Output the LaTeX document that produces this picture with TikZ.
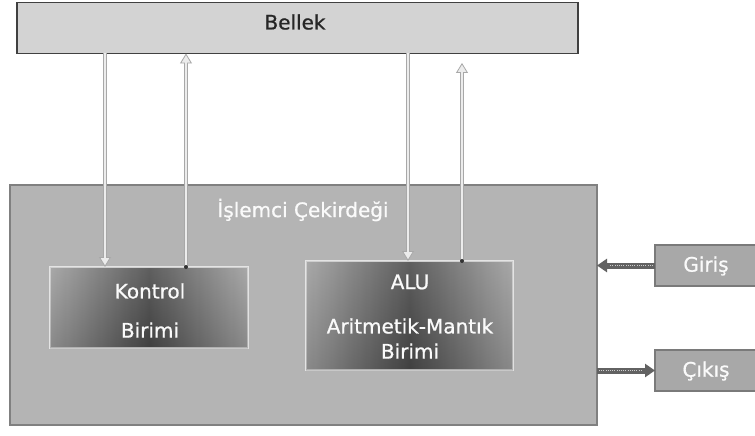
\documentclass[tikz,border=0pt]{standalone}
\usepackage{fontspec}
\setmainfont{DejaVu Sans}
\newfontfamily\labelfont{DejaVu Sans}[FakeBold=0.8]
\usetikzlibrary{arrows.meta,calc}
\definecolor{bellekfill}{HTML}{D3D3D3}
\definecolor{bellekdraw}{HTML}{404040}
\definecolor{cpufill}{HTML}{B4B4B4}
\definecolor{cpudraw}{HTML}{808080}
\definecolor{iofill}{HTML}{A8A8A8}
\definecolor{iodraw}{HTML}{7A7A7A}
\definecolor{unitedge}{HTML}{B4B4B4}
\definecolor{unitmid}{HTML}{545454}
\definecolor{unitline}{HTML}{E4E4E4}
\definecolor{memline}{HTML}{ECECEC}
\definecolor{memedge}{HTML}{A8A8A8}
\definecolor{ioarrow}{HTML}{626262}
\tikzset{
  box/.style={rectangle, inner sep=0pt, outer sep=0pt},
  bellekbox/.style={box, fill=bellekfill, draw=bellekdraw, line width=1.8pt},
  cpubox/.style={box, fill=cpufill, draw=cpudraw, line width=1.8pt},
  unitbox/.style={box, left color=unitedge, right color=unitedge, middle color=unitmid, draw=unitline, line width=1.6pt},
  iobox/.style={box, fill=iofill, draw=iodraw, line width=1.4pt},
  blacktext/.style={inner sep=0pt, text=black!85, font=\labelfont\fontsize{20}{24}\selectfont},
  whitetext/.style={inner sep=0pt, text=white!96!gray, font=\labelfont\fontsize{20}{24}\selectfont},
  memedgearrow/.style={draw=memedge, line width=4pt, -{Triangle[width=12pt,length=10pt,fill=memline,color=memedge,line width=0.8pt]}},
  meminner/.style={draw=memline, line width=2.2pt, shorten >=9pt},
  ioarr/.style={draw=ioarrow, line width=6pt, -{Triangle[width=13pt,length=10pt]}},
  iodots/.style={draw=white!60!gray, line width=1pt, dash pattern=on 1pt off 1.2pt},
  startdot/.style={circle, fill=black!80, inner sep=0pt, minimum size=4pt}
}
\begin{document}
\begin{tikzpicture}[x=1pt,y=-1pt]
\useasboundingbox (0,0) rectangle (755,436);
\fill[white] (0,0) rectangle (755,436);
% memory
\node[bellekbox, minimum width=561pt, minimum height=51pt] (bellek) at (297.5,28) {};
\node[blacktext] (bellektxt) at (295,22) {Bellek};
% processor
\node[cpubox, minimum width=587pt, minimum height=240pt] (cpu) at (303.5,305) {};
\node[whitetext] (cputxt) at (303,210) {İşlemci Çekirdeği};
% units
\node[unitbox, minimum width=198pt, minimum height=81pt] (kontrol) at (149,307.5) {};
\fill[top color=white, bottom color=black, opacity=0.12] (kontrol.south west) rectangle (kontrol.north east);
\node[whitetext] (kontrol1) at (150,291) {Kontrol};
\node[whitetext] (kontrol2) at (150,330) {Birimi};
\node[unitbox, minimum width=207pt, minimum height=109pt] (alu) at (409.5,315.5) {};
\fill[top color=white, bottom color=black, opacity=0.12] (alu.south west) rectangle (alu.north east);
\node[whitetext] (alu1) at (410,282) {ALU};
\node[whitetext] (alu2) at (410,326) {Aritmetik-Mantık};
\node[whitetext] (alu3) at (410,351) {Birimi};
% io
\node[iobox, minimum width=105pt, minimum height=41pt] (giris) at (707.5,265.5) {};
\node[whitetext] (giristxt) at (706,266) {Giriş};
\node[iobox, minimum width=105pt, minimum height=41pt] (cikis) at (707.5,370.5) {};
\node[whitetext] (cikistxt) at (706,371) {Çıkış};
% memory arrows
\coordinate (xa) at (105,0);
\coordinate (xb) at (186,0);
\coordinate (xc) at (408,0);
\coordinate (xd) at (462,0);
\coordinate (ytopd) at (0,63);
\draw[memedgearrow] (bellek.south -| xa) -- (kontrol.north -| xa);
\draw[meminner] (bellek.south -| xa) -- (kontrol.north -| xa);
\draw[memedgearrow] (kontrol.north -| xb) -- (bellek.south -| xb);
\draw[meminner] (kontrol.north -| xb) -- (bellek.south -| xb);
\node[startdot] (dotb) at (kontrol.north -| xb) {};
\draw[memedgearrow] (bellek.south -| xc) -- (alu.north -| xc);
\draw[meminner] (bellek.south -| xc) -- (alu.north -| xc);
\draw[memedgearrow] (alu.north -| xd) -- (xd |- ytopd);
\draw[meminner] (alu.north -| xd) -- (xd |- ytopd);
\node[startdot] (dotd) at (alu.north -| xd) {};
% io arrows
\draw[ioarr] (giris.west) -- (giris.west -| cpu.east);
\draw[iodots] ($(giris.west)+(-2,0)$) -- ($(giris.west -| cpu.east)+(12,0)$);
\draw[ioarr] (cikis.west -| cpu.east) -- (cikis.west);
\draw[iodots] ($(cikis.west -| cpu.east)+(2,0)$) -- ($(cikis.west)+(-12,0)$);
\end{tikzpicture}
\end{document}
